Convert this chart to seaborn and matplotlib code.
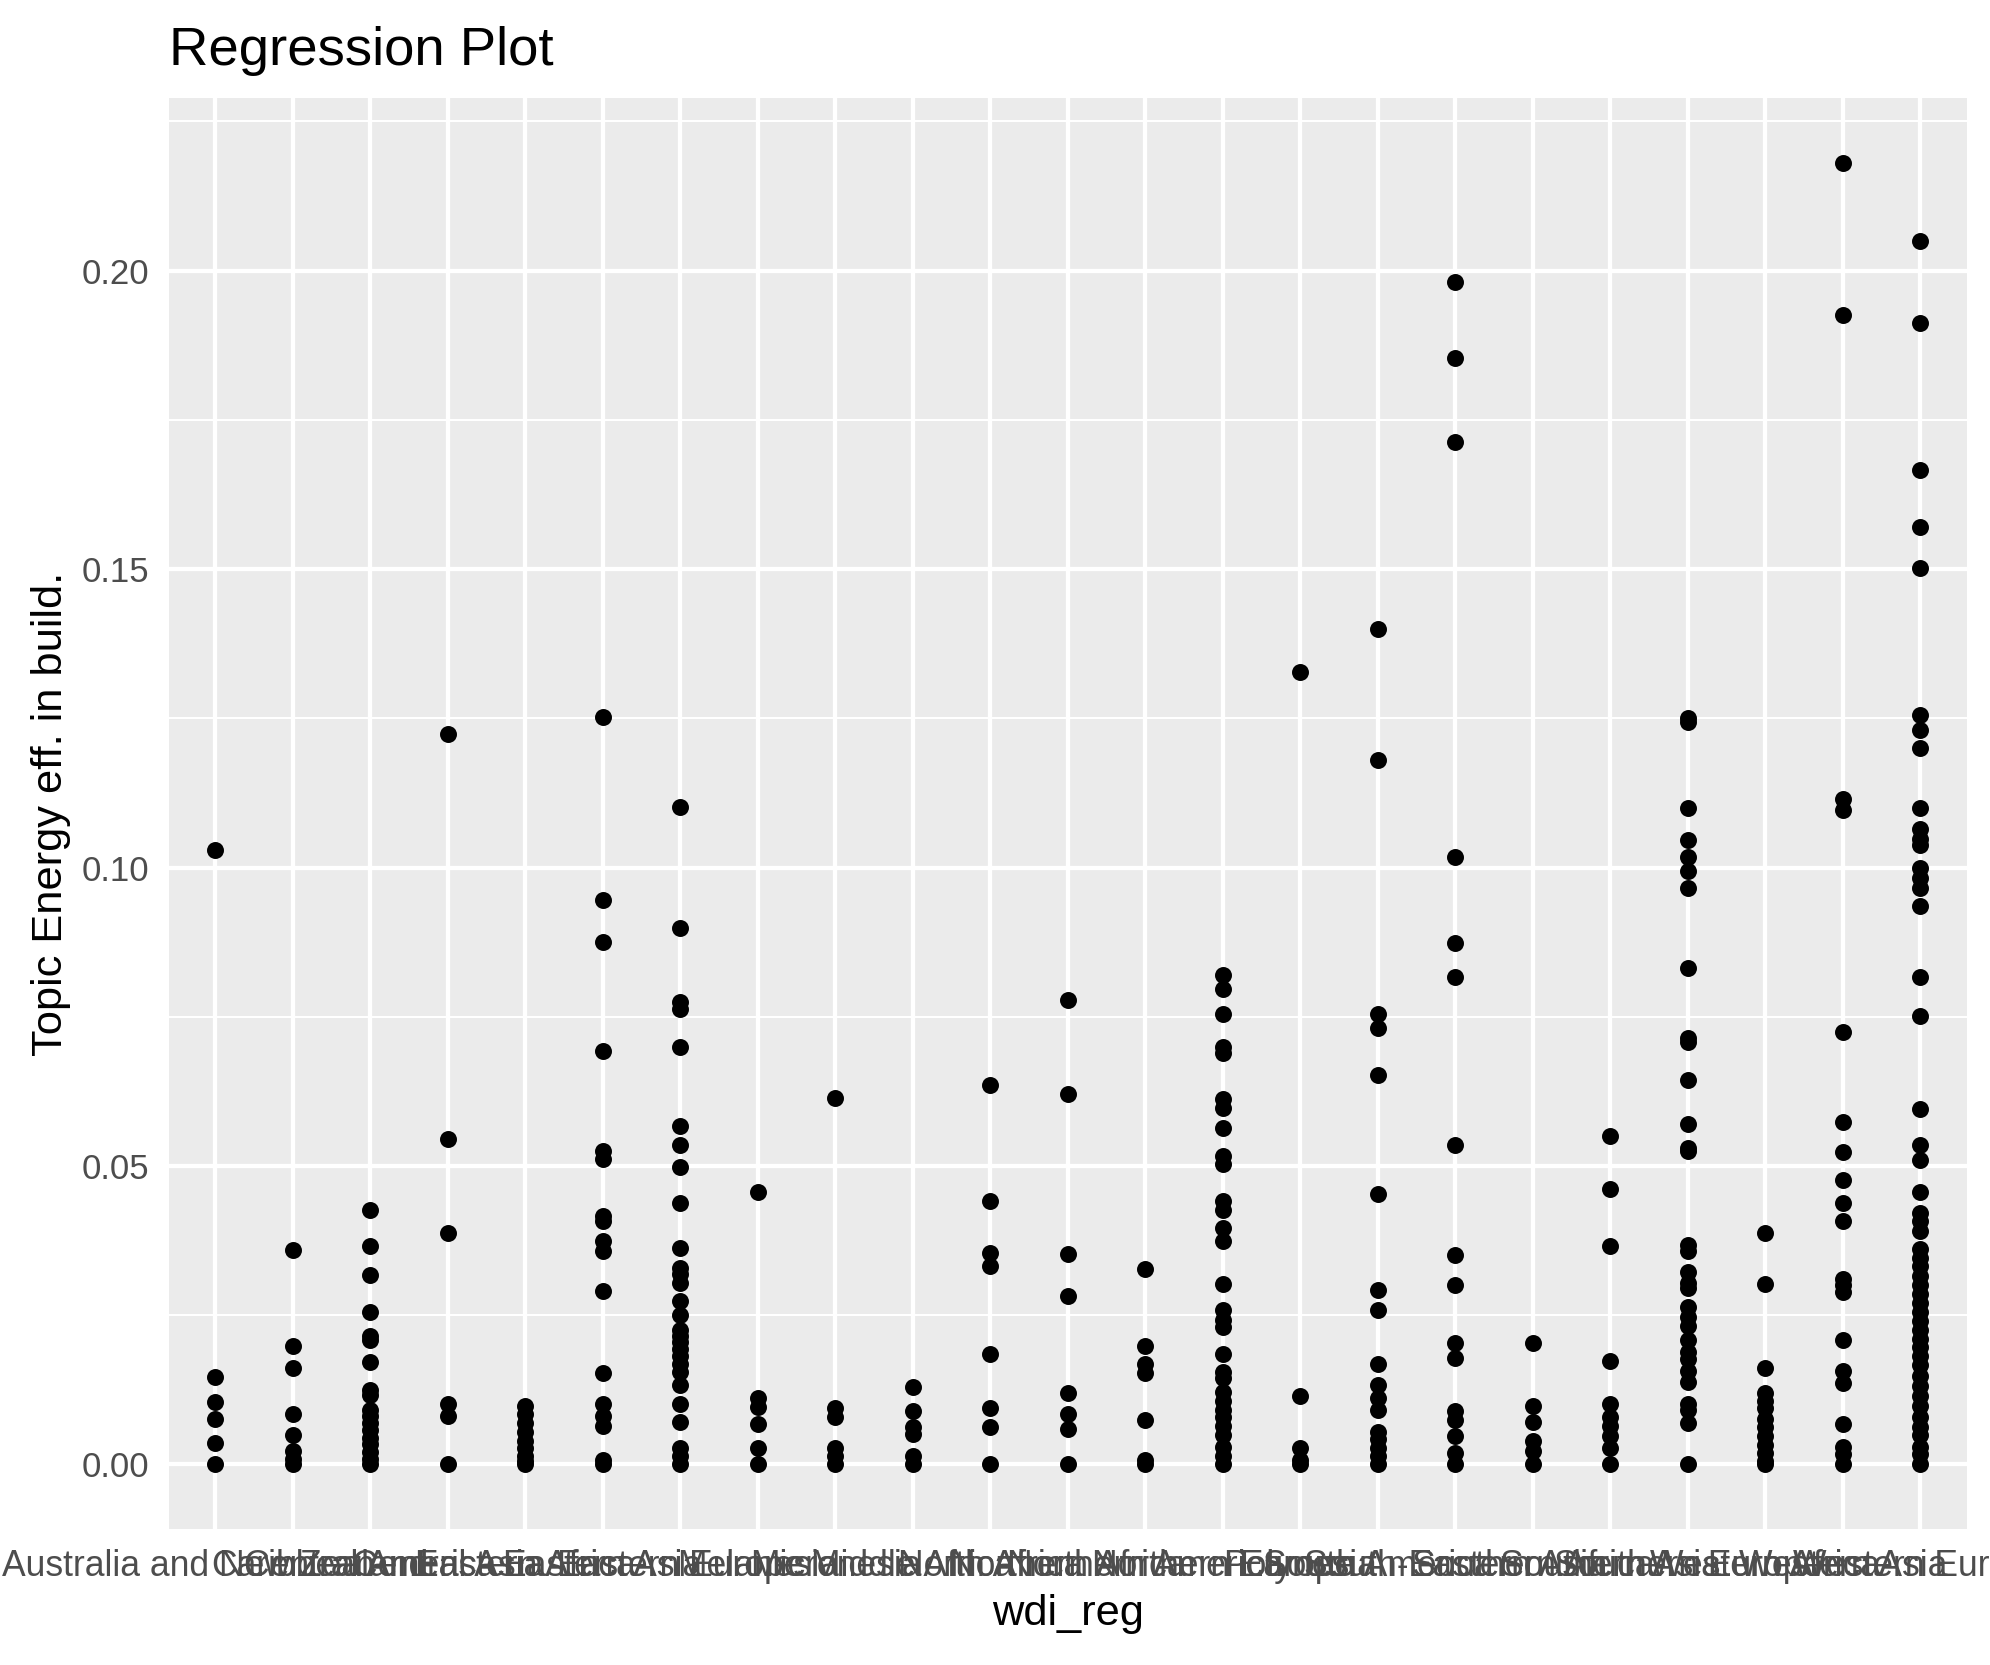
import numpy as np
import pandas as pd
import seaborn as sns
import matplotlib.pyplot as plt
from matplotlib.ticker import MultipleLocator, FormatStrFormatter

regions = [
    "Australia and New Zealand", "Caribbean", "Central America", "Central Asia",
    "Eastern Africa", "Eastern Asia", "Eastern Europe", "Melanesia", "Micronesia",
    "Middle Africa", "North Africa", "Northern Africa", "Northern America",
    "Northern Europe", "Polynesia", "South America", "South-Eastern Asia",
    "Southern Africa", "Southern Asia", "Southern Europe", "Western Africa",
    "Western Asia", "Western Europe",
]

# topic share per document, one list per region
anz = [0.103, 0.0147, 0.0105, 0.0077, 0.0036, 0.0]
caribbean = [0.036, 0.0198, 0.0162, 0.0085, 0.0049, 0.0023, 0.001, 0.0]
central_america = [0.0427, 0.0366, 0.0317, 0.0255, 0.0215, 0.0208, 0.0172, 0.0125,
                   0.0117, 0.0091, 0.0081, 0.007, 0.0057, 0.0045, 0.0034, 0.0021, 0.001, 0.0]
central_asia = [0.1224, 0.0546, 0.0387, 0.0102, 0.0081, 0.0]
eastern_africa = [0.0098, 0.0085, 0.007, 0.0055, 0.004, 0.0028, 0.0015, 0.0006, 0.0]
eastern_asia = [0.1252, 0.0946, 0.0876, 0.0693, 0.0525, 0.0512, 0.0417, 0.0408, 0.0374,
                0.0357, 0.0291, 0.0153, 0.0102, 0.0081, 0.0064, 0.0008, 0.0]
eastern_europe = [0.1101, 0.0899, 0.0774, 0.0763, 0.0699, 0.0567, 0.0536, 0.0499, 0.0438,
                  0.0363, 0.0329, 0.0319, 0.0304, 0.0274, 0.0251, 0.0225, 0.0215, 0.0206,
                  0.0193, 0.0181, 0.0168, 0.0155, 0.0134, 0.0102, 0.0072, 0.0028, 0.0015, 0.0]
melanesia = [0.0457, 0.0111, 0.0096, 0.0068, 0.0028, 0.0]
micronesia = [0.0614, 0.0094, 0.0079, 0.0028, 0.0015, 0.0]
middle_africa = [0.013, 0.0089, 0.0062, 0.0051, 0.0015, 0.0]
north_africa = [0.0636, 0.0442, 0.0355, 0.0332, 0.0185, 0.0094, 0.0062, 0.0]
northern_africa = [0.0778, 0.0621, 0.0353, 0.0283, 0.0119, 0.0085, 0.006, 0.0]
northern_america = [0.0327, 0.0198, 0.0168, 0.0153, 0.0074, 0.0008, 0.0]
northern_europe = [0.082, 0.0797, 0.0755, 0.0699, 0.0689, 0.0612, 0.0597, 0.0563, 0.0516,
                   0.0504, 0.0442, 0.0427, 0.0397, 0.0374, 0.0302, 0.0259, 0.0242, 0.023,
                   0.0185, 0.0155, 0.0145, 0.0121, 0.0106, 0.0091, 0.0079, 0.0064, 0.0049,
                   0.003, 0.0015, 0.0]
polynesia = [0.1328, 0.0115, 0.0028, 0.0008, 0.0]
south_america = [0.14, 0.118, 0.0755, 0.0731, 0.0652, 0.0453, 0.0293, 0.0259, 0.0168,
                 0.0134, 0.0111, 0.0091, 0.0055, 0.0043, 0.0028, 0.0015, 0.0]
south_eastern_asia = [0.1981, 0.1853, 0.1713, 0.1018, 0.0874, 0.0816, 0.0536, 0.0351, 0.03,
                      0.0204, 0.0179, 0.0089, 0.0074, 0.0047, 0.0019, 0.0]
southern_africa = [0.0204, 0.0098, 0.0072, 0.004, 0.0023, 0.0]
southern_asia = [0.055, 0.0461, 0.0366, 0.0174, 0.0102, 0.0079, 0.0064, 0.0047, 0.0028, 0.0]
southern_europe = [0.125, 0.1243, 0.1099, 0.1046, 0.1018, 0.0995, 0.0965, 0.0831, 0.0714,
                   0.0708, 0.0644, 0.057, 0.0531, 0.0525, 0.0368, 0.0357, 0.0323, 0.0304,
                   0.0295, 0.0264, 0.0247, 0.0232, 0.0208, 0.0189, 0.0176, 0.0157, 0.0138,
                   0.0102, 0.0091, 0.007, 0.0]
western_africa = [0.0387, 0.0302, 0.0162, 0.0119, 0.0106, 0.0094, 0.0077, 0.0062, 0.0047,
                  0.0032, 0.0019, 0.0006, 0.0]
western_asia = [0.218, 0.1926, 0.1114, 0.1097, 0.0725, 0.0574, 0.0523, 0.0476, 0.0438,
                0.0408, 0.031, 0.03, 0.0289, 0.0208, 0.0157, 0.0136, 0.0068, 0.003, 0.0017, 0.0]
western_europe = [0.2049, 0.1913, 0.1666, 0.1571, 0.1501, 0.1256, 0.1231, 0.1201, 0.1099,
                  0.1065, 0.1048, 0.1037, 0.0999, 0.0982, 0.0965, 0.0935, 0.0816, 0.0752,
                  0.0595, 0.0536, 0.051, 0.0457, 0.0421, 0.0408, 0.0391, 0.0361, 0.0346,
                  0.0332, 0.0315, 0.03, 0.0285, 0.027, 0.0255, 0.024, 0.0225, 0.021, 0.0196,
                  0.0181, 0.0166, 0.0149, 0.0132, 0.0115, 0.0098, 0.0079, 0.0062, 0.0049,
                  0.003, 0.0017, 0.0]

values = [anz, caribbean, central_america, central_asia, eastern_africa, eastern_asia,
          eastern_europe, melanesia, micronesia, middle_africa, north_africa,
          northern_africa, northern_america, northern_europe, polynesia, south_america,
          south_eastern_asia, southern_africa, southern_asia, southern_europe,
          western_africa, western_asia, western_europe]

df = pd.DataFrame(
    [(reg, v) for reg, vals in zip(regions, values) for v in vals],
    columns=["wdi_reg", "topic"],
)

sns.set_theme(style="darkgrid")
plt.rcParams["font.family"] = ["Liberation Sans", "DejaVu Sans"]

dpi = 1990 / 7
fig = plt.figure(figsize=(7, 1665 / dpi), dpi=dpi)
ax = fig.add_axes([0.0849, 0.0817, 0.9884 - 0.0849, 0.9411 - 0.0817])
ax.set_facecolor("#EBEBEB")

sns.stripplot(data=df, x="wdi_reg", y="topic", order=regions, jitter=False,
              color="black", size=4.3, linewidth=0, ax=ax, zorder=3)

ax.set_xlim(-0.6, len(regions) - 1 + 0.6)
ax.set_ylim(-0.0108, 0.2289)
ax.yaxis.set_major_locator(MultipleLocator(0.05))
ax.yaxis.set_minor_locator(MultipleLocator(0.025))
ax.yaxis.set_major_formatter(FormatStrFormatter("%.2f"))

ax.grid(which="major", color="white", linewidth=1.07)
ax.grid(which="minor", axis="y", color="white", linewidth=0.53)
ax.set_axisbelow(True)
for s in ax.spines.values():
    s.set_visible(False)

ax.tick_params(axis="both", which="major", length=2.75, width=1.07, color="#333333",
               labelsize=8.8, labelcolor="#4D4D4D", pad=2.2)
ax.tick_params(axis="x", which="major", labelsize=9.0)
ax.tick_params(axis="y", which="minor", length=0)

ax.set_title("Regression Plot", loc="left", fontsize=13.8, color="black", pad=8.5)
ax.set_xlabel("wdi_reg", fontsize=11, color="black", labelpad=2.75)
ax.set_ylabel("Topic Energy eff. in build.", fontsize=11, color="black", labelpad=2.75)

fig.savefig("out.png", dpi=dpi)
